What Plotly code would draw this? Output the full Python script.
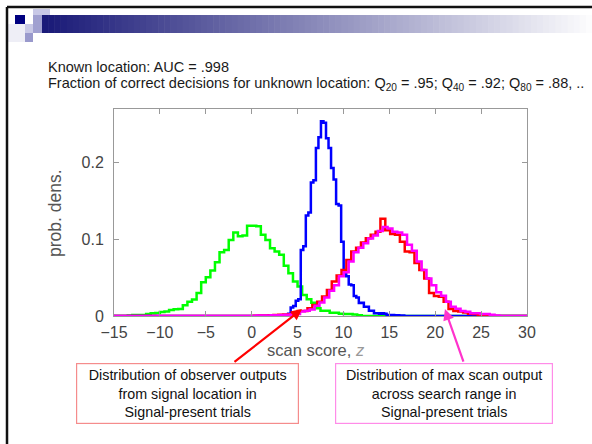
import numpy as np
import plotly.graph_objects as go

# ---------------- data ----------------
x_range = [-15, 30]
y_range = [0, 0.27]
x_ticks = [-15, -10, -5, 0, 5, 10, 15, 20, 25, 30]
y_ticks = [0, 0.1, 0.2]
y_ticklabels = ["0", "0.1", "0.2"]

# signal-absent, observer output (green)
green_start, green_width = -13.5, 0.5
green_vals = [0.0005, 0.0013, 0.0013, 0.0013, 0.0025, 0.0035, 0.0040, 0.0052, 0.0060, 0.0078,
              0.0087, 0.0090, 0.0140, 0.0185, 0.0215, 0.0300, 0.0440, 0.0505, 0.0595, 0.0700,
              0.0830, 0.0860, 0.0990, 0.1090, 0.1040, 0.1050, 0.1176, 0.1176, 0.1170, 0.1060,
              0.0990, 0.0885, 0.0840, 0.0800, 0.0654, 0.0558, 0.0449, 0.0384, 0.0275, 0.0218,
              0.0174, 0.0100, 0.0070, 0.0070, 0.0044, 0.0044, 0.0030, 0.0026, 0.0026, 0.0020,
              0.0010]

# max scan output, signal-absent (blue)
blue_start, blue_width = 3.7, 0.275
blue_vals = [0.001, 0.003, 0.011, 0.013, 0.020, 0.022, 0.086, 0.091, 0.131, 0.135,
             0.174, 0.177, 0.219, 0.233, 0.254, 0.252, 0.232, 0.219, 0.193, 0.178,
             0.146, 0.144, 0.097, 0.055, 0.052, 0.041, 0.040, 0.026, 0.024, 0.017,
             0.0174, 0.012, 0.012, 0.007, 0.007, 0.0035, 0.0035, 0.003, 0.0035, 0.003,
             0.0013, 0.0013, 0.0013, 0.001, 0.001, 0.0008, 0.0005]

# signal location output, signal-present (red)
red_start, red_width = 0.25, 0.53
red_vals = [0.0003, 0.0005, 0.0008, 0.001, 0.0012, 0.0015, 0.0018, 0.0022, 0.003, 0.0065,
            0.0065, 0.010, 0.0144, 0.0187, 0.0253, 0.034, 0.0449, 0.0527, 0.060, 0.073,
            0.084, 0.089, 0.096, 0.1015, 0.106, 0.110, 0.127, 0.112, 0.107, 0.106,
            0.097, 0.084, 0.083, 0.069, 0.060, 0.049, 0.030, 0.026, 0.025, 0.0187,
            0.009, 0.0065, 0.006, 0.0045, 0.003, 0.0025, 0.0015, 0, 0, 0]
# max scan output, signal-present (magenta)
magenta_start, magenta_width = 0.5, 0.53
magenta_vals = [0.0005, 0.0005, 0.0008, 0.001, 0.001, 0.0013, 0.0015, 0.002, 0.0025, 0.006,
                0.0068, 0.0085, 0.0135, 0.0175, 0.024, 0.033, 0.040, 0.052, 0.057, 0.071,
                0.083, 0.089, 0.095, 0.101, 0.105, 0.111, 0.116, 0.114, 0.110, 0.109,
                0.106, 0.093, 0.085, 0.071, 0.060, 0.049, 0.040, 0.031, 0.0265, 0.0185,
                0.012, 0.0095, 0.0065, 0.0055, 0.0035, 0.0035, 0.0026, 0.0025, 0.0015, 0.0008]

# ---------------- layout geometry (pixels) ----------------
W, H = 592, 444
L, R, T, B = 114, 65, 109, 128
PW, PH = W - L - R, H - T - B


def px(xp):
    return (xp - L) / PW


def py(yp):
    return (H - B - yp) / PH


def hist_xy(start, width, vals):
    edges = start + width * np.arange(len(vals) + 1)
    xs = [x_range[0]] + list(edges) + [x_range[1]]
    ys = [0] + list(vals) + [0, 0]
    return xs, ys


fig = go.Figure()
for (start, width, vals, color) in [
    (green_start, green_width, green_vals, "#00ff00"),
    (blue_start, blue_width, blue_vals, "#0000ff"),
    (red_start, red_width, red_vals, "#ff0000"),
    (magenta_start, magenta_width, magenta_vals, "#ff00ff"),
]:
    xs, ys = hist_xy(start, width, vals)
    fig.add_trace(go.Scatter(x=xs, y=ys, mode="lines", line=dict(color=color, width=2.5, shape="hv"),
                             hoverinfo="skip", showlegend=False, cliponaxis=True))

shapes = []
# slide border
shapes.append(dict(type="line", xref="paper", yref="paper", x0=px(7), x1=px(W + 2), y0=py(7), y1=py(7),
                   line=dict(color="#111", width=2.5)))
shapes.append(dict(type="line", xref="paper", yref="paper", x0=px(7), x1=px(7), y0=py(7), y1=py(H + 2),
                   line=dict(color="#111", width=2.5)))
# header gradient bar
n = 90
x_start, x_end = 42, W
c0 = np.array([26, 26, 120])
c1 = np.array([252, 252, 253])
for i in range(n):
    t = i / (n - 1)
    c = (c0 + (c1 - c0) * t).astype(int)
    xa = x_start + (x_end - x_start) * i / n
    xb = x_start + (x_end - x_start) * (i + 1) / n + 0.6
    shapes.append(dict(type="rect", xref="paper", yref="paper", x0=px(xa), x1=px(xb), y0=py(15), y1=py(33),
                       line=dict(width=0), fillcolor=f"rgb({c[0]},{c[1]},{c[2]})", layer="below"))
# header squares
for (xa, xb, ya, yb, col) in [
    (8, 25, 24, 42, "#eeeef6"),
    (33, 50, 9, 15, "#c8c8e6"),
    (15, 25, 15, 24, "#000080"),
    (33, 42, 15, 24, "#a0a0d0"),
    (25, 33, 24, 33, "#c8c8e6"),
    (33, 42, 24, 33, "#a0a0d0"),
    (25, 33, 33, 42, "#9999cc"),
]:
    shapes.append(dict(type="rect", xref="paper", yref="paper", x0=px(xa), x1=px(xb), y0=py(ya), y1=py(yb),
                       line=dict(width=0), fillcolor=col, layer="below"))

FONT = "Liberation Sans, Arial, Helvetica, sans-serif"
annotations = [
    dict(text="Known location: AUC = .998", xref="paper", yref="paper", x=px(46), y=py(67),
         xanchor="left", yanchor="middle", showarrow=False, font=dict(size=14.5, color="#1a1a1a")),
    dict(text="Fraction of correct decisions for unknown location: Q<sub>20</sub> = .95; Q<sub>40</sub> = .92; "
              "Q<sub>80</sub> = .88, ..",
         xref="paper", yref="paper", x=px(46), y=py(84),
         xanchor="left", yanchor="middle", showarrow=False, font=dict(size=14.5, color="#1a1a1a")),
    dict(text="prob. dens.", xref="paper", yref="paper", x=px(55), y=py(213), textangle=-90,
         xanchor="center", yanchor="middle", showarrow=False, font=dict(size=17.5, color="#555")),
    dict(text="scan score, <i><span style='color:#999'>z</span></i>", xref="paper", yref="paper",
         x=px(316), y=py(350), xanchor="center", yanchor="middle", showarrow=False,
         font=dict(size=16.5, color="#555")),
    # boxes
    dict(text="Distribution of observer outputs<br>from signal location in<br>Signal-present trials",
         xref="paper", yref="paper", x=px(187), y=py(393), xanchor="center", yanchor="middle",
         showarrow=False, width=219, height=57, borderpad=1, bordercolor="#f58c8c", borderwidth=1.2,
         align="center", font=dict(size=14.3, color="#111"), bgcolor="white"),
    dict(text="Distribution of max scan output<br>across search range in<br>Signal-present trials",
         xref="paper", yref="paper", x=px(443.5), y=py(393), xanchor="center", yanchor="middle",
         showarrow=False, width=214, height=57, borderpad=1, bordercolor="#ff8ce8", borderwidth=1.2,
         align="center", font=dict(size=14.3, color="#111"), bgcolor="white"),
    # arrows
    dict(text="", x=5.48, y=0.009, xref="x", yref="y", ax=-69, ay=54, showarrow=True,
         arrowhead=2, arrowsize=1, arrowwidth=2.2, arrowcolor="#ff0000"),
    dict(text="", x=21.06, y=0.009, xref="x", yref="y", ax=19, ay=54, showarrow=True,
         arrowhead=2, arrowsize=1, arrowwidth=2.2, arrowcolor="#ff33cc"),
]

axis_common = dict(showline=True, linecolor="#999", linewidth=1, mirror="ticks", ticks="inside",
                   ticklen=5, tickcolor="#999", showgrid=False, zeroline=False,
                   tickfont=dict(size=16, color="#444", family=FONT))

fig.update_layout(
    width=W, height=H,
    margin=dict(l=L, r=R, t=T, b=B, pad=0),
    paper_bgcolor="white", plot_bgcolor="white",
    font=dict(family=FONT),
    xaxis=dict(range=x_range, tickvals=x_ticks, ticklabelstandoff=2, **axis_common),
    yaxis=dict(range=y_range, tickvals=y_ticks, ticktext=y_ticklabels, ticklabelstandoff=6, **axis_common),
    shapes=shapes,
    annotations=annotations,
    showlegend=False,
)

fig.write_html("out.html", config={"displayModeBar": False},
               post_script="document.body.style.margin='0';document.body.style.overflow='hidden';")
